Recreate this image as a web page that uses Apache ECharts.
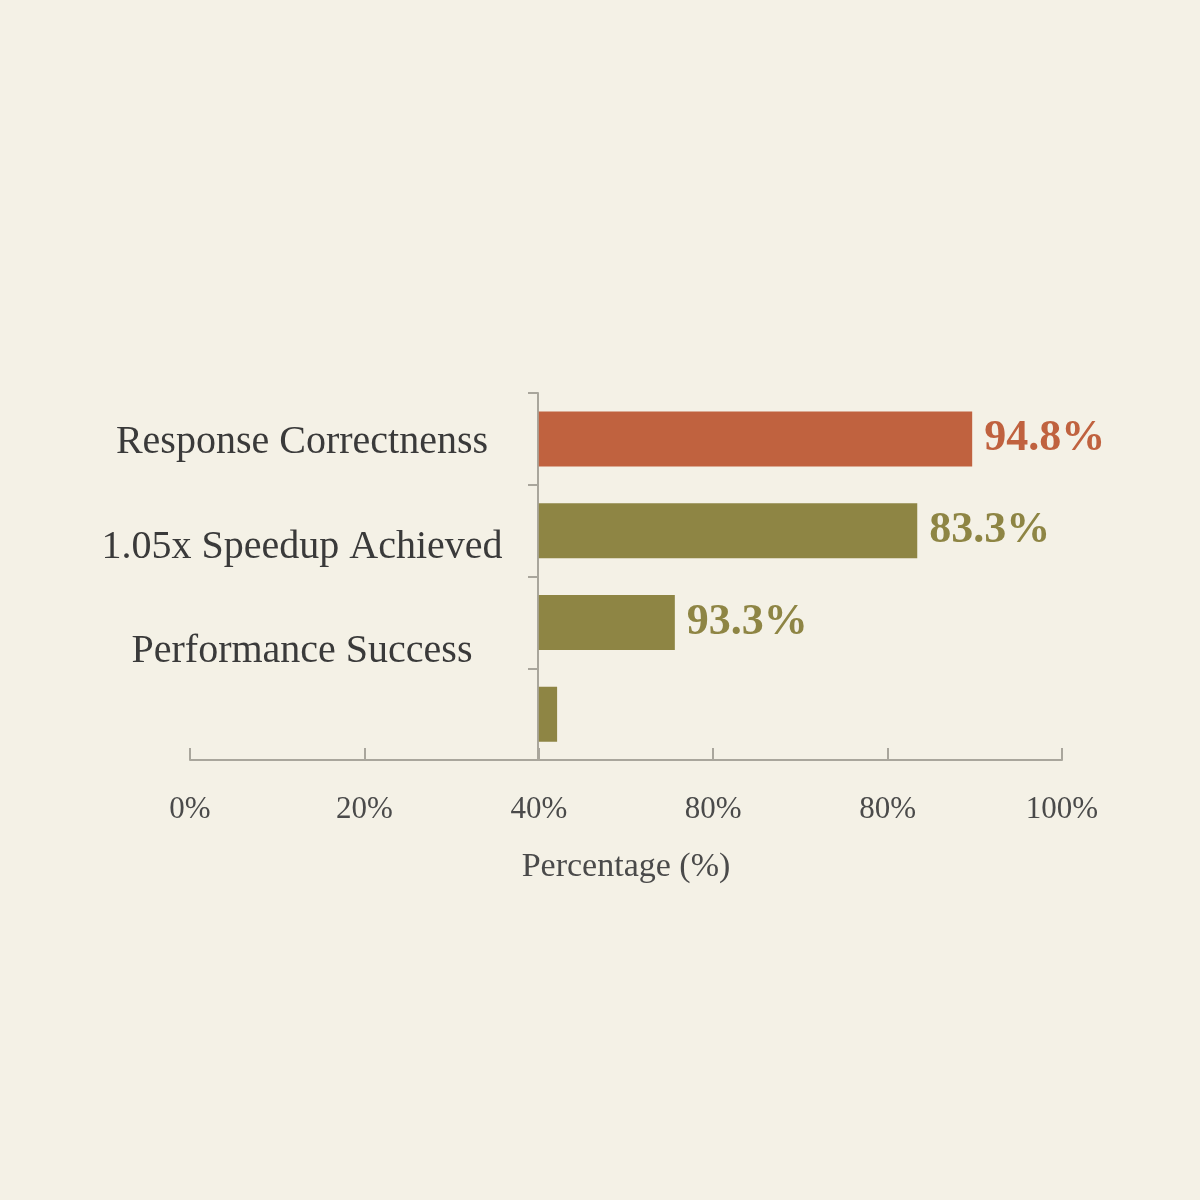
<!DOCTYPE html>
<html>
<head>
<meta charset="utf-8">
<script src="https://cdn.jsdelivr.net/npm/echarts@6/dist/echarts.min.js"></script>
<style>
  html, body { margin: 0; padding: 0; background: #f4f1e6; }
  #chart { width: 1200px; height: 1200px; }
</style>
</head>
<body>
<div id="chart"></div>
<script>
const categories = ['Response Correctnenss', '1.05x Speedup Achieved', 'Performance Success', ''];
const barEnds = [89.7, 83.4, 55.6, 42.1];
const barBase = 40;
const valueLabels = ['94.8%', '83.3%', '93.3%', ''];
const tickLabels = ['0%', '20%', '40%', '80%', '80%', '100%'];
const barColors = ['#c0623f', '#8e8544', '#8e8544', '#8e8544'];

const font = 'Liberation Serif';
const chart = echarts.init(document.getElementById('chart'));

chart.setOption({
  backgroundColor: '#f4f1e6',
  textStyle: { fontFamily: font },
  grid: { left: 190, width: 872, top: 393, height: 367 },
  xAxis: {
    type: 'value', min: 0, max: 100, interval: 20,
    axisLine: { show: true, lineStyle: { color: '#a9a69c', width: 2 } },
    axisTick: { show: true, inside: true, length: 12, lineStyle: { color: '#a9a69c', width: 2 } },
    splitLine: { show: false },
    axisLabel: {
      margin: 34, fontSize: 31, color: '#4a4a4a', fontFamily: font,
      formatter: (v) => tickLabels[Math.round(v / 20)]
    },
    name: 'Percentage (%)', nameLocation: 'middle', nameGap: 90,
    nameTextStyle: { fontSize: 34, color: '#4a4a4a', fontFamily: font }
  },
  yAxis: {
    type: 'category', inverse: true, data: categories,
    offset: -348,
    axisLine: { show: true, lineStyle: { color: '#a9a69c', width: 2 } },
    axisTick: { show: true, length: 10, lineStyle: { color: '#a9a69c', width: 2 } },
    axisLabel: {
      margin: 236, align: 'center', fontSize: 40, color: '#3a3a3a', fontFamily: font,
      formatter: (v, i) => '{s' + i + '|' + v + '}',
      rich: {
        s0: { fontSize: 40, color: '#3a3a3a', fontFamily: font, padding: [8, 0, 0, 0] },
        s1: { fontSize: 40, color: '#3a3a3a', fontFamily: font, padding: [34, 0, 0, 0] },
        s2: { fontSize: 40, color: '#3a3a3a', fontFamily: font, padding: [58, 0, 0, 0] },
        s3: { fontSize: 40 }
      }
    }
  },
  series: [
    {
      type: 'bar', stack: 'b', barWidth: 55, silent: true,
      itemStyle: { color: 'transparent' },
      data: categories.map(() => barBase)
    },
    {
      type: 'bar', stack: 'b', barWidth: 55,
      data: barEnds.map((v, i) => ({
        value: v - barBase,
        itemStyle: { color: barColors[i] },
        label: { color: barColors[i] }
      })),
      label: {
        show: true, position: 'right', distance: 12,
        fontSize: 44, fontWeight: 'bold', fontFamily: font,
        formatter: (p) => valueLabels[p.dataIndex]
      }
    }
  ]
});
</script>
</body>
</html>
